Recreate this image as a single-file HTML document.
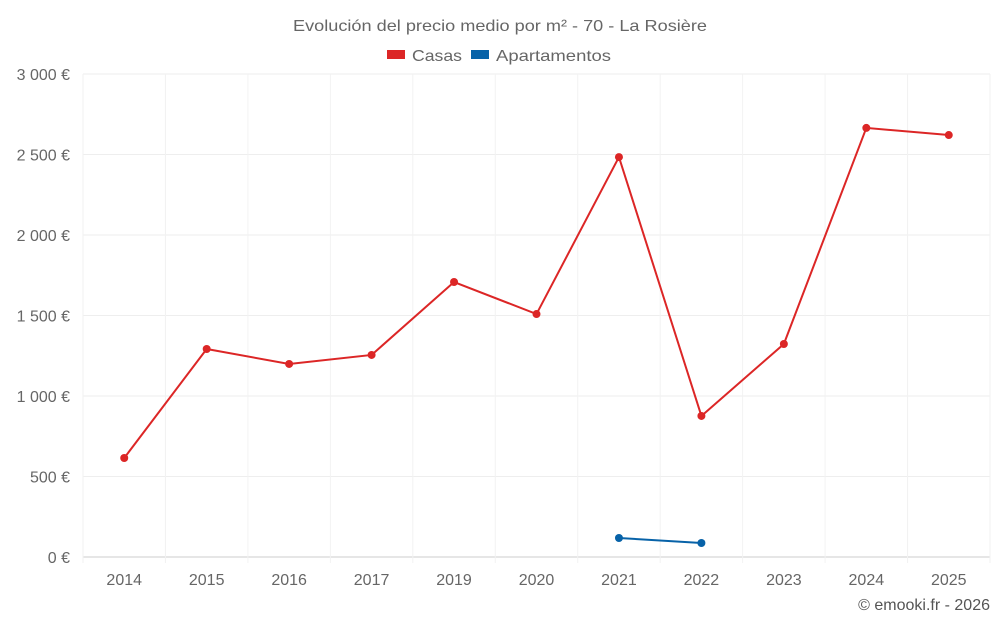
<!DOCTYPE html>
<html><head><meta charset="utf-8"><style>
body{margin:0;background:#fff;font-family:"Liberation Sans",sans-serif;}
svg text{font-family:"Liberation Sans",sans-serif;}
</style></head><body>
<svg id="chart" width="1000" height="625" xmlns="http://www.w3.org/2000/svg">
<text x="293" y="31" textLength="414" lengthAdjust="spacingAndGlyphs" font-size="16" fill="#666">Evolución del precio medio por m² - 70 - La Rosière</text>
<g><rect x="387" y="50" width="18" height="9" fill="#dc2626"/><text x="412" y="61" font-size="16" fill="#666" textLength="50" lengthAdjust="spacingAndGlyphs">Casas</text></g>
<g><rect x="471" y="50" width="18" height="9" fill="#0762a8"/><text x="496" y="61" font-size="16" fill="#666" textLength="115" lengthAdjust="spacingAndGlyphs">Apartamentos</text></g>
<g id="grid"></g><g id="marks"></g>
<text x="990" y="610" text-anchor="end" font-size="16" fill="#555">© emooki.fr - 2026</text>
</svg>
<script>
const categories=["2014","2015","2016","2017","2019","2020","2021","2022","2023","2024","2025"];
const casas=[615,1292,1199,1255,1708,1509,2484,876,1323,2665,2621];
const apartamentos=[null,null,null,null,null,null,118,87,null,null,null];
const yTicks=[0,500,1000,1500,2000,2500,3000];
const yLabels=["0 €","500 €","1 000 €","1 500 €","2 000 €","2 500 €","3 000 €"];
const L=83,R=990,T=74,B=557,yMax=3000;
const NS="http://www.w3.org/2000/svg";
const step=(R-L)/categories.length;
const xs=i=>L+step*(i+0.5);
const ys=v=>B-(v/yMax)*(B-T);
function mk(t,a,p){const e=document.createElementNS(NS,t);for(const k in a)e.setAttribute(k,a[k]);p.appendChild(e);return e;}
const g=document.getElementById('grid'),m=document.getElementById('marks');
yTicks.forEach((v,i)=>{
 const ln=mk('line',{x1:L,x2:R,y1:ys(v),y2:ys(v),stroke:v===0?'#ccc':'#eee'},g);
 
 
 const t=mk('text',{x:70,y:ys(v)+6,'text-anchor':'end','font-size':16,fill:'#666'},g);t.textContent=yLabels[i];
 
 
});
for(let i=0;i<=categories.length;i++){
 const ln=mk('line',{x1:L+step*i,x2:L+step*i,y1:T,y2:B+6,stroke:'#f2f2f2'},g);
 
 
}
categories.forEach((c,i)=>{
 const t=mk('text',{x:xs(i),y:585,'text-anchor':'middle','font-size':16,fill:'#666'},g);t.textContent=c;
 
 
});
function series(vals,color,name){
 let pts=[];vals.forEach((v,i)=>{if(v!=null)pts.push([xs(i),ys(v)]);});
 const p=mk('polyline',{points:pts.map(q=>q.join(',')).join(' '),fill:'none',stroke:color,'stroke-width':2},m);
 
 
 pts.forEach(q=>{const c=mk('circle',{cx:q[0],cy:q[1],r:4,fill:color},m);
 
 });
}
series(casas,'#dc2626','casas');
series(apartamentos,'#0762a8','apartamentos');
</script>
</body></html>
